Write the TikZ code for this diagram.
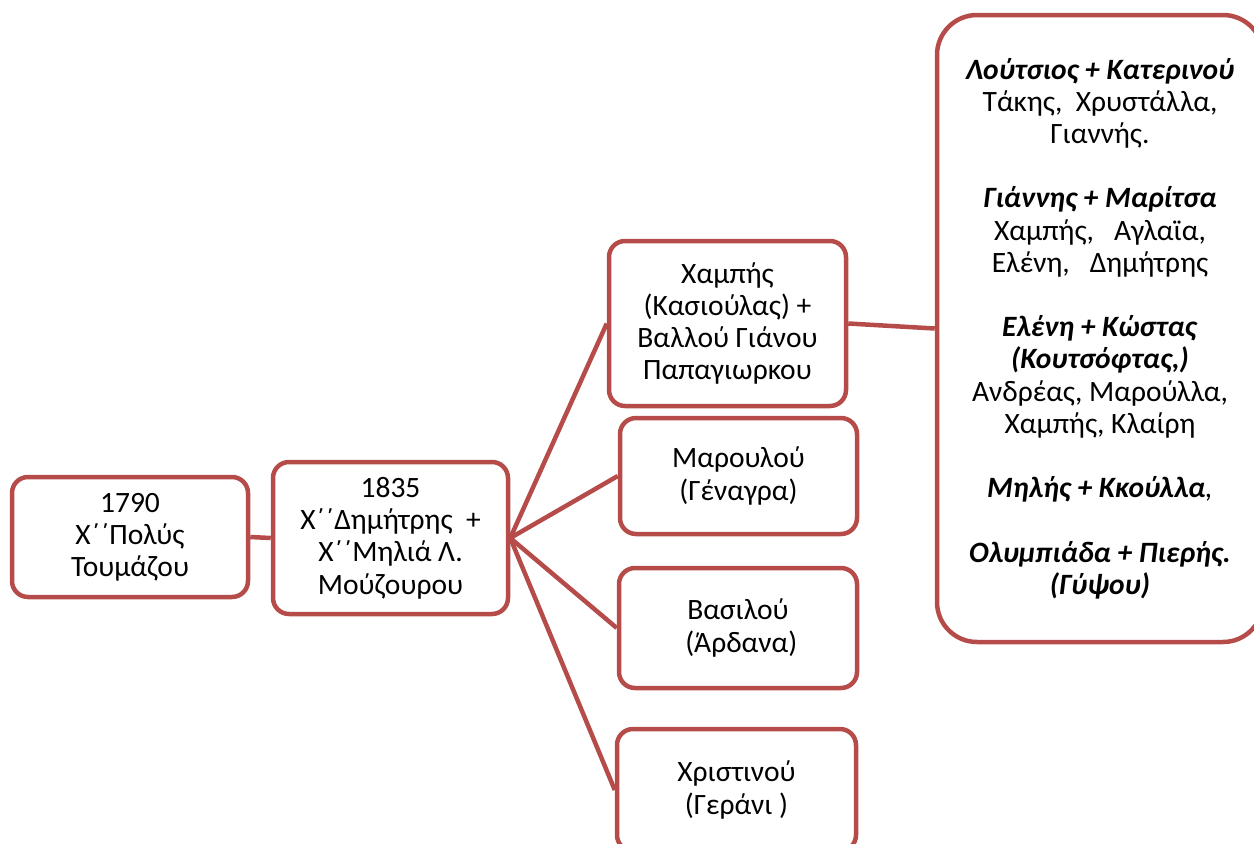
\documentclass[tikz,border=0pt]{standalone}
\usepackage{fontspec}
\setmainfont{Carlito}
\definecolor{brd}{RGB}{182,76,74}
\newcommand\bi[1]{\textbf{\textit{#1}}}
\begin{document}
\begin{tikzpicture}[x=1pt,y=-1pt,
  box/.style={draw=brd, line width=4.5pt, rounded corners=16pt, fill=white,
    align=center, inner sep=0pt, font=\fontsize{29.5}{32.2}\selectfont},
  conn/.style={draw=brd, line width=4.5pt}]
\useasboundingbox (0,0) rectangle (1254,844);
\clip (0,0) rectangle (1254,844);
\node[box, minimum width=236pt, minimum height=120pt] (b1) at (130,537) {1790\\Χ΄΄Πολύς\\Τουμάζου};
\node[box, minimum width=235pt, minimum height=152pt] (b2) at (390.5,538) {1835\\Χ΄΄Δημήτρης \ +\\Χ΄΄Μηλιά Λ.\\Μούζουρου};
\node[box, minimum width=237pt, minimum height=165pt] (b3) at (727.5,323.5) {Χαμπής\\(Κασιούλας) +\\Βαλλού Γιάνου\\Παπαγιωρκου};
\node[box, minimum width=237pt, minimum height=116pt] (b4) at (738.5,476) {Μαρουλού\\(Γέναγρα)};
\node[box, minimum width=238pt, minimum height=120pt] (b5) at (738,628) {Βασιλού\\\ (Άρδανα)};
\node[box, minimum width=239pt, minimum height=122pt] (b6) at (736.5,790) {Χριστινού\\(Γεράνι )};
\node[box, rounded corners=40pt, minimum width=326pt, minimum height=627pt] (r) at (1100,328.5)
 {\bi{Λούτσιος + Κατερινού}\\ Τάκης, \ Χρυστάλλα,\\Γιαννής.\\[32.2pt]
  \bi{Γιάννης + Μαρίτσα}\\Χαμπής, \ \ Αγλαϊα,\\Ελένη, \ \ Δημήτρης\\[32.2pt]
  \bi{Ελένη + Κώστας}\\\bi{(Κουτσόφτας,)}\\Ανδρέας, Μαρούλλα,\\Χαμπής, Κλαίρη\\[32.2pt]
  \bi{Μηλής + Κκούλλα}\textit{,}\\[32.2pt]
  \bi{Ολυμπιάδα + Πιερής.}\\\bi{(Γύψου)}};
\draw[conn] (b1.east) -- (b2.west);
\draw[conn] (b2.east) -- (b3.west);
\draw[conn] (b2.east) -- (b4.west);
\draw[conn] (b2.east) -- (b5.west);
\draw[conn] (b2.east) -- (b6.west);
\draw[conn] (b3.east) -- (r.west);
\end{tikzpicture}
\end{document}
